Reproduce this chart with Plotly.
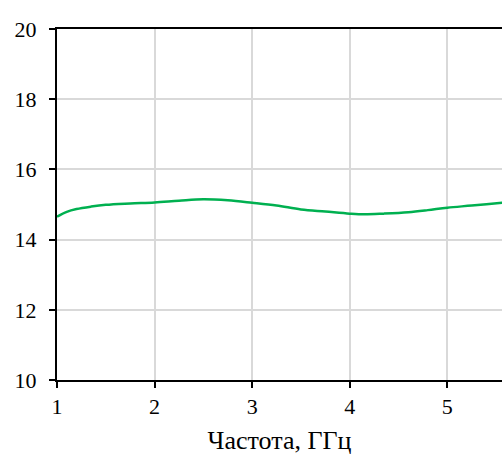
import plotly.graph_objects as go

freq_ghz = [1.0, 1.1, 1.2, 1.35, 1.5, 1.75, 2.0, 2.25, 2.5, 2.75, 3.0, 3.25, 3.5, 3.75, 4.0, 4.15, 4.35, 4.6, 4.8, 5.0, 5.25, 5.56, 5.8]
gain_db = [14.65, 14.79, 14.87, 14.94, 14.99, 15.03, 15.06, 15.11, 15.15, 15.12, 15.05, 14.97, 14.86, 14.80, 14.74, 14.72, 14.74, 14.78, 14.84, 14.91, 14.97, 15.05, 15.1]

x_ticks = [1, 2, 3, 4, 5]
y_ticks = [10, 12, 14, 16, 18, 20]
x_title = "Частота, ГГц"

fig = go.Figure()
fig.add_trace(go.Scatter(
    x=freq_ghz, y=gain_db, mode="lines",
    line=dict(color="#00b050", width=2.5, shape="spline", smoothing=1.0),
    showlegend=False,
))

FAMILY = "Liberation Serif"
title_font = dict(family=FAMILY, size=26, color="black")

fig.update_layout(
    template="none",
    width=502, height=455, autosize=False,
    margin=dict(l=57, r=0, t=29, b=75, autoexpand=False),
    paper_bgcolor="white", plot_bgcolor="white",
    font=dict(family=FAMILY, size=22, color="black"),
    xaxis=dict(
        range=[1, 5.56], tickmode="array", tickvals=x_ticks,
        ticktext=[str(v) for v in x_ticks],
        tickfont=dict(family=FAMILY, size=22, color="black"),
        showline=True, linecolor="black", linewidth=2, mirror=True,
        ticks="outside", ticklen=6, tickwidth=2, tickcolor="black",
        showgrid=True, gridcolor="#d9d9d9", gridwidth=1.5,
        zeroline=False,
        title=dict(text=x_title, font=title_font, standoff=12),
    ),
    yaxis=dict(
        range=[10, 20], tickmode="array", tickvals=y_ticks,
        ticktext=[str(v) for v in y_ticks],
        tickfont=dict(family=FAMILY, size=22, color="black"),
        ticklabelstandoff=8,
        showline=True, linecolor="black", linewidth=2, mirror=False,
        ticks="outside", ticklen=6, tickwidth=2, tickcolor="black",
        showgrid=True, gridcolor="#d9d9d9", gridwidth=1.5,
        zeroline=False,
    ),
)

post = ("document.body.style.margin='0';document.body.style.overflow='hidden';"
        "Plotly.relayout(document.getElementById('{plot_id}'), {width:502, height:455});")
fig.write_html("out.html", post_script=post, config={"displayModeBar": False})
